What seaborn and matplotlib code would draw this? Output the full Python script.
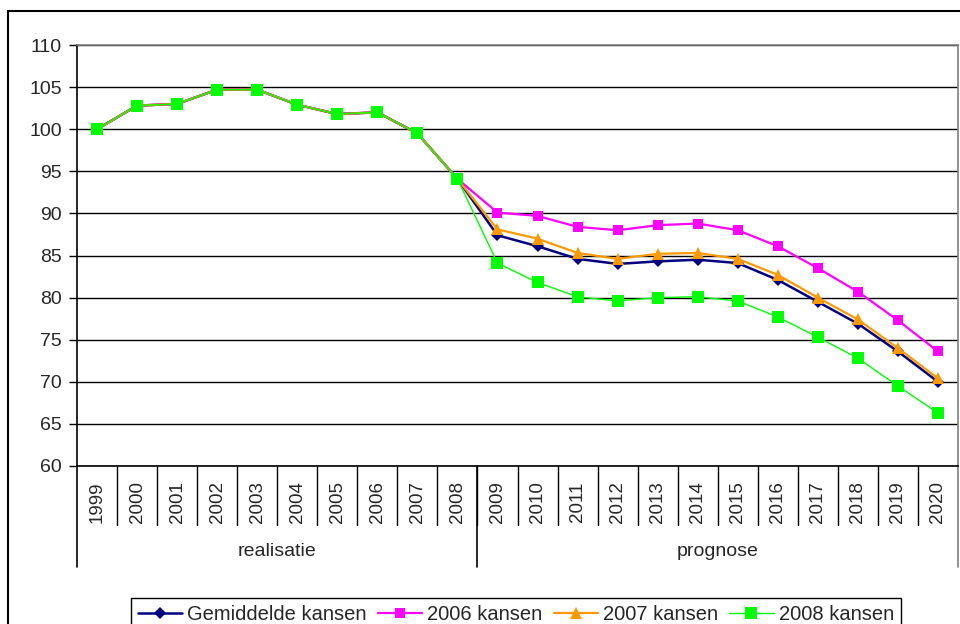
import matplotlib
matplotlib.use("Agg")
import matplotlib.pyplot as plt
import seaborn as sns
from matplotlib.patches import Rectangle
from matplotlib.transforms import blended_transform_factory

# Index values per year (1999 = 100)
years = list(range(1999, 2021))
history = [100.0, 102.8, 103.0, 104.7, 104.7, 102.9, 101.8, 102.0, 99.5, 94.1]
gemiddelde = history + [87.4, 86.1, 84.6, 84.0, 84.3, 84.5, 84.1, 82.1, 79.5, 76.9, 73.6, 70.0]
kansen_2006 = history + [90.1, 89.7, 88.4, 88.0, 88.6, 88.8, 88.0, 86.1, 83.5, 80.7, 77.3, 73.6]
kansen_2007 = history + [88.1, 87.0, 85.3, 84.6, 85.2, 85.3, 84.6, 82.7, 80.0, 77.4, 74.0, 70.4]
kansen_2008 = history + [84.1, 81.8, 80.1, 79.6, 80.0, 80.1, 79.6, 77.7, 75.3, 72.8, 69.5, 66.3]

series_names = ["Gemiddelde kansen", "2006 kansen", "2007 kansen", "2008 kansen"]
group_labels = ["realisatie", "prognose"]
group_bounds = [(1998.5, 2008.5), (2008.5, 2020.5)]
y_ticks = list(range(60, 111, 5))

sns.set_style("white")
plt.rcParams['font.family'] = ['Liberation Sans', 'DejaVu Sans']

W, H = 960, 624
fig = plt.figure(figsize=(W / 100, H / 100), dpi=100)
ax_left, ax_right, ax_top, ax_bottom = 77, 958, 45, 466
ax = fig.add_axes([ax_left / W, 1 - ax_bottom / H,
                   (ax_right - ax_left) / W, (ax_bottom - ax_top) / H])
ax_h = ax_bottom - ax_top

styles = [
    (gemiddelde, "#000080", "D", 6.0, 1.8),
    (kansen_2006, "#FF00FF", "s", 6.5, 1.6),
    (kansen_2007, "#FF9900", "^", 8.0, 1.6),
    (kansen_2008, "#00FF00", "s", 8.0, 1.0),
]
for name, (vals, color, marker, ms, lw) in zip(series_names, styles):
    sns.lineplot(x=years, y=vals, ax=ax, color=color, marker=marker,
                 markersize=ms, linewidth=lw, markeredgewidth=0,
                 label=name, sort=False, zorder=3)

handles, labels = ax.get_legend_handles_labels()
ax.get_legend().remove()

# Axes, grid and frame
ax.set_ylim(60, 110)
ax.set_yticks(y_ticks)
ax.set_yticklabels([str(v) for v in y_ticks], fontsize=14)
ax.yaxis.grid(True, color="black", linewidth=1.0)
ax.set_axisbelow(True)
ax.tick_params(axis="y", direction="out", length=6, width=1, color="black", pad=5, left=True)
for side in ["top", "right"]:
    ax.spines[side].set_color("#808080")
    ax.spines[side].set_linewidth(1.2)
for side in ["left", "bottom"]:
    ax.spines[side].set_color("black")
    ax.spines[side].set_linewidth(1.2)

ax.set_xticks(years)
ax.set_xticklabels([str(y) for y in years], rotation=90, fontsize=13.5)
ax.tick_params(axis="x", length=0, pad=11)

# Category separators and group labels below the axis
trans = blended_transform_factory(ax.transData, ax.transAxes)
tick_sep = -(525 - ax_bottom) / ax_h
group_sep = -(567 - ax_bottom) / ax_h
for b in [y + 0.5 for y in years[:-1]]:
    ax.plot([b, b], [0, tick_sep], transform=trans, color="black",
            linewidth=1.0, clip_on=False)
for i, (x0, x1) in enumerate(group_bounds):
    ax.plot([x0, x0], [0, group_sep], transform=trans, color="black",
            linewidth=1.2, clip_on=False)
    ax.text((x0 + x1) / 2, -(551 - ax_bottom) / ax_h, group_labels[i],
            transform=trans, ha="center", va="center", fontsize=14)
ax.plot([group_bounds[-1][1]] * 2, [0, group_sep], transform=trans,
        color="#808080", linewidth=1.2, clip_on=False)

ax.set_xlim(1998.5, 2020.5)

# Chart border
fig.add_artist(Rectangle((8 / W, -0.05), 1.2, 1 - 11 / H + 0.05,
                         transform=fig.transFigure, fill=False,
                         edgecolor="black", linewidth=1.5))

leg = fig.legend(handles, labels, loc="upper center",
                 bbox_to_anchor=(516 / W, 1 - 588 / H), ncol=4,
                 frameon=True, fancybox=False, edgecolor="black",
                 framealpha=1, fontsize=14.5, handlelength=2.2,
                 columnspacing=0.55, handletextpad=0.25, borderpad=0.35)
leg.get_frame().set_linewidth(1.0)

fig.savefig("out.png", dpi=100)
